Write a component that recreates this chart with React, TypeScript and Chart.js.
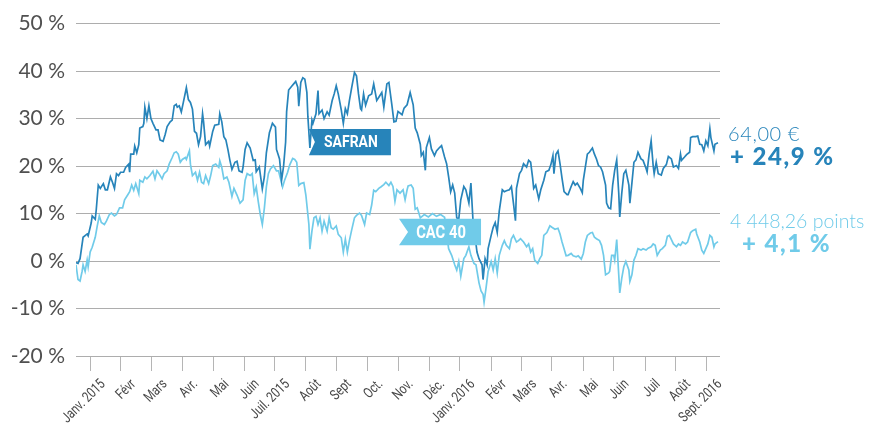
import { useEffect, useRef } from "react";
import { Chart, registerables } from "chart.js";

Chart.register(...registerables);

// ---------- data ----------
const monthLabels = [
  "Janv. 2015", "Févr", "Mars", "Avr.", "Mai", "Juin", "Juil. 2015", "Août", "Sept", "Oct.", "Nov.", "Déc.",
  "Janv. 2016", "Févr", "Mars", "Avr.", "Mai", "Juin", "Juil", "Août", "Sept. 2016",
];
// mid-month positions, in days since 1 Jan 2015
const monthTickDays = [14, 44, 75, 105, 136, 166, 196, 227, 257, 288, 318, 349, 379, 410, 440, 470, 501, 531, 562, 592, 623];

const yTicks = [-20, -10, 0, 10, 20, 30, 40, 50];

// SAFRAN performance since 1 Jan 2015 (%), by day
const safranDays = [
  0, 2, 4, 7, 11, 12, 15, 16, 19, 20, 22, 24, 27, 29, 31, 34, 36, 38, 40, 42, 44, 47, 49, 52, 53, 54, 57, 58, 60, 62,
  63, 66, 67, 68, 70, 72, 74, 76, 79, 81, 83, 86, 88, 90, 93, 95, 97, 99, 100, 102, 104, 106, 109, 111, 113, 115, 117,
  119, 121, 123, 125, 126, 128, 131, 132, 135, 137, 141, 142, 144, 146, 148, 150, 152, 154, 157, 159, 161, 164, 165,
  167, 169, 172, 175, 177, 178, 181, 184, 186, 188, 191, 194, 197, 198, 201, 203, 205, 207, 208, 210, 213, 215, 217,
  219, 220, 222, 224, 226, 228, 229, 231, 233, 234, 237, 239, 240, 243, 245, 248, 250, 253, 255, 257, 259, 262, 264,
  266, 268, 270, 272, 275, 277, 279, 281, 282, 284, 286, 289, 292, 294, 297, 300, 302, 304, 307, 309, 312, 314, 316,
  318, 322, 324, 327, 330, 333, 335, 337, 340, 341, 343, 345, 346, 349, 351, 354, 356, 359, 361, 364, 366, 368, 370,
  372, 374, 376, 378, 380, 383, 385, 388, 390, 392, 394, 396, 398, 401, 402, 404, 406, 407, 410, 412, 414, 416, 418,
  421, 423, 425, 428, 430, 432, 434, 435, 438, 440, 442, 445, 447, 449, 451, 452, 454, 457, 459, 462, 464, 467, 469,
  471, 472, 474, 476, 478, 480, 482, 485, 486, 489, 491, 493, 495, 498, 500, 501, 503, 505, 507, 510, 512, 514, 516,
  518, 520, 523, 524, 526, 528, 530, 532, 534, 536, 537, 539, 541, 543, 546, 547, 549, 551, 553, 555, 558, 560, 563,
  564, 566, 568, 570, 571, 573, 575, 578, 580, 583, 585, 588, 590, 593, 595, 597, 598, 601, 603, 606, 607, 609, 612,
  614, 616, 618, 620, 622, 624, 626, 627, 630, 631, 634,
];
const safranValues = [
  -0.3, -0.5, 0.5, 5, 5.7, 5.3, 8, 9.5, 8.8, 10.8, 16, 15.3, 16.3, 15, 15, 17.7, 16.6, 15.3, 18.4, 18, 18.7, 18.7, 19.7,
  20.4, 18.7, 22.5, 22.5, 24.2, 22.8, 24.5, 28, 28.3, 29, 32.4, 30, 32.7, 30, 29, 27.6, 27.6, 25.5, 25.2, 26.6, 28.3,
  29.3, 29.7, 32.7, 33, 32.4, 32.7, 31.4, 33.4, 36.5, 34, 33.4, 32, 27.3, 26.9, 24.5, 26.2, 31, 29.3, 24.5, 25.2, 24.2,
  27.3, 28.6, 28.8, 31, 29.3, 26.2, 25.5, 23.5, 21.2, 19.3, 20.8, 21, 19, 18.7, 19.8, 23.5, 24.9, 23.8, 21.2, 21.3,
  18.8, 19.8, 15.2, 17.7, 22.8, 27, 29, 28.2, 23.5, 21.5, 17, 20, 25, 31.4, 36, 36.8, 37.3, 37.8, 36.6, 32.6, 37.6,
  38.6, 38.3, 35.5, 30.4, 23.8, 29.7, 29, 31, 35.9, 31, 31.8, 30, 31.4, 30.7, 33.8, 35.2, 36.9, 35.2, 31.8, 29, 32.1,
  31, 33.8, 36.2, 39.7, 39, 35.2, 32.1, 31.8, 35.2, 32.8, 34.8, 35.2, 37.3, 33.8, 34.8, 35.5, 32.4, 37.3, 37.6, 32.8,
  29.3, 29.4, 31.5, 30.8, 32.2, 32.9, 35.5, 32.9, 28, 27, 24.6, 22.2, 22.9, 19.1, 23.9, 26, 23.6, 22.2, 23.2, 23.9,
  24.3, 21.9, 20.5, 17.7, 14.6, 16, 14.3, 9.1, 8.8, 12.9, 15.7, 15, 12.2, 16.4, 8.8, 5.4, 1.9, 0.5, -0.8, -3.9, 0.5,
  -0.8, 2.6, 5.4, 7.1, 8.1, 6, 10.5, 15, 14.6, 14.8, 15, 15.7, 12.2, 8.5, 15.3, 18.4, 19.1, 20.5, 19.8, 21.2, 20.8,
  17.4, 15.3, 16, 13.1, 15, 17, 18.8, 19.1, 20.3, 22.2, 18.4, 22.5, 23.2, 20.5, 17.4, 14.6, 14, 14, 15.7, 16.7, 16,
  16.4, 15.3, 14.4, 17, 19.8, 22.5, 22.9, 23.8, 22.5, 21.5, 20.1, 19.8, 18.8, 16, 12.2, 11.2, 11, 16, 19.1, 21.3, 14.3,
  9.3, 14.3, 18.4, 19.1, 16, 12.2, 16.4, 20.8, 21.3, 22.9, 21.5, 21.2, 19.5, 18.8, 22.5, 25.3, 20.1, 18.4, 20.8, 18.4,
  18.1, 19.5, 20.3, 22, 21.5, 19.8, 20.1, 19.5, 22.5, 21.2, 21.9, 22.4, 22.9, 26, 26.2, 26.2, 26.3, 24.6, 24.5, 23.2,
  25.3, 24.3, 27.9, 26, 23.2, 24.6, 24.9,
];

// CAC 40 performance since 1 Jan 2015 (%), by day
const cacDays = [
  0, 2, 4, 6, 7, 9, 11, 12, 14, 16, 19, 21, 23, 25, 28, 30, 33, 35, 38, 40, 43, 46, 48, 51, 53, 55, 57, 59, 62, 63, 66,
  68, 70, 73, 76, 78, 80, 82, 85, 87, 90, 92, 95, 97, 99, 101, 103, 105, 108, 109, 112, 113, 115, 118, 120, 122, 124,
  126, 128, 131, 133, 135, 138, 141, 142, 144, 146, 149, 151, 154, 156, 159, 162, 165, 167, 169, 172, 174, 176, 178,
  180, 182, 184, 186, 188, 190, 192, 195, 198, 200, 202, 204, 206, 209, 211, 214, 216, 218, 220, 222, 225, 227, 230,
  231, 233, 235, 237, 239, 241, 243, 245, 248, 250, 252, 254, 257, 259, 262, 264, 266, 268, 270, 272, 275, 277, 280,
  282, 285, 287, 290, 292, 294, 296, 299, 301, 304, 306, 309, 311, 313, 315, 317, 320, 323, 325, 327, 328, 331, 333,
  335, 337, 340, 344, 348, 352, 356, 360, 364, 366, 368, 371, 374, 376, 378, 380, 383, 385, 388, 390, 393, 395, 398,
  400, 402, 403, 405, 407, 410, 412, 414, 416, 418, 421, 423, 425, 428, 430, 432, 435, 437, 439, 442, 445, 447, 449,
  451, 453, 456, 458, 460, 462, 465, 468, 470, 473, 476, 478, 480, 482, 484, 486, 489, 491, 494, 496, 499, 501, 503,
  505, 508, 510, 512, 514, 517, 519, 521, 523, 526, 527, 529, 531, 532, 534, 536, 537, 539, 541, 543, 546, 547, 549,
  551, 553, 555, 558, 560, 563, 565, 568, 570, 572, 574, 577, 579, 582, 584, 586, 588, 590, 593, 595, 597, 599, 602,
  604, 607, 609, 612, 613, 616, 618, 620, 622, 624, 626, 628, 630, 631, 634,
];
const cacValues = [
  -0.8, -3.9, -4.2, -2.2, -0.8, -2.2, 0.2, -1.2, 1.9, 2.9, 5, 7.4, 9.5, 8.1, 7.7, 8.4, 9.8, 10.1, 9.5, 9.8, 11.2, 11.2,
  12.9, 13.9, 14.6, 16, 14.9, 16.3, 14.2, 17, 16.6, 17.7, 17.3, 18, 18.9, 17.3, 19, 18.4, 17.3, 18.4, 19, 20.4, 21.8,
  22.8, 23, 22.5, 20.8, 21.4, 21.8, 21.4, 23.2, 20.4, 18, 18.7, 17, 18.7, 16.6, 16.3, 18, 16.3, 18, 20.1, 20.4, 19.7,
  21.1, 19.7, 17.3, 17.7, 16.6, 13.6, 15.3, 13.9, 12.2, 12.9, 17, 18.4, 18, 18.4, 14.2, 15.6, 12.5, 9.8, 7.7, 11.1,
  15.6, 18.4, 19.4, 20.1, 19, 19, 17.3, 15.6, 17, 18.7, 20.2, 21.6, 21.4, 20.8, 15.9, 16.3, 16.5, 13.9, 7.7, 2.5, 6.3,
  9.1, 9.4, 7.7, 9.1, 6.3, 8.4, 6.3, 9.1, 7, 6.7, 7.4, 5.6, 4.9, 1.9, 4.6, 1.9, 4.3, 6.3, 9.1, 9.6, 10.1, 9.6, 7.7,
  10.1, 9.8, 11.8, 14.9, 14.6, 15.3, 15.6, 16.1, 16.6, 15.9, 16.6, 15.7, 12.6, 15, 14.3, 15, 12.9, 15, 15.8, 16, 15.3,
  10.9, 11.2, 9.1, 9.8, 9.3, 10, 9.4, 9.8, 9.2, 6, 2.6, 1.2, -0.8, -1.9, -0.1, -3.2, 0.5, 1.2, 3, 1.2, -0.5, -0.8,
  -4.6, -6.3, -7, -8.7, -5.6, -2.2, -0.1, -1.9, 0.5, -2.5, 1.2, 3.3, 4.3, 3.3, 2.6, 4.7, 5.4, 4, 4.3, 4.7, 4, 3, 3.6,
  1.9, 2.6, 0.2, -0.5, 0.5, 1.2, 5.4, 6, 7.4, 7.1, 6.7, 6.9, 5.7, 4, 2.6, 1.1, 1.2, 1.6, 1.1, 0.9, 1.1, 0.4, 1.6, 4,
  5.4, 5.9, 6, 5, 4.7, 4.3, 3.3, 1.2, -2.9, -2.5, -2.2, 1.2, 1.2, 0.2, 4.5, -2.9, -6.7, -3.6, -1.2, -0.1, -1.9, -4.3,
  -2.9, 0.2, 1.2, 2.6, 2.3, 2.6, 2.3, 2.7, 3, 3.6, 3.3, 1.2, 2.3, 2.6, 3.3, 5.2, 5.4, 4.5, 3.6, 3, 3.6, 3.3, 4, 3.6, 4,
  6, 6.4, 6.7, 5.7, 4, 2.3, 1.6, 2.6, 3.6, 5.4, 5, 3, 3.6, 4.1,
];

const safranLabel = "SAFRAN";
const cacLabel = "CAC 40";
const safranPrice = "64,00 €";
const safranChange = "+ 24,9 %";
const cacPoints = "4 448,26 points";
const cacChange = "+ 4,1 %";

// ---------- styles ----------
const SAFRAN_COLOR = "#2784ba";
const CAC_COLOR = "#70cbe9";
const TEXT_COLOR = "#474747";
const GRID_COLOR = "#adadad";

// ribbons placed in data units (days, %)
const ribbons = [
  { text: safranLabel, from: 230, to: 311, top: 27.8, bottom: 22.3, color: SAFRAN_COLOR, notch: 6, size: 17 },
  { text: cacLabel, from: 319, to: 400, top: 8.9, bottom: 3.3, color: CAC_COLOR, notch: 9, size: 18 },
];

const overlayPlugin = {
  id: "overlay",
  afterDraw(chart: any) {
    const { ctx, chartArea, scales } = chart;
    const xs = scales.x;
    const ys = scales.y;

    // rotated, condensed month labels
    ctx.save();
    ctx.fillStyle = TEXT_COLOR;
    ctx.font = "14.5px Roboto";
    ctx.textAlign = "right";
    ctx.textBaseline = "top";
    monthTickDays.forEach((d, i) => {
      const px = xs.getPixelForValue(d);
      ctx.save();
      ctx.translate(px + 8, chartArea.bottom + 21);
      ctx.rotate((-45 * Math.PI) / 180);
      ctx.scale(0.78, 1);
      ctx.fillText(monthLabels[i], 0, 0);
      ctx.restore();
    });
    ctx.restore();

    // ribbons
    ribbons.forEach((r) => {
      const l = xs.getPixelForValue(r.from);
      const rr = xs.getPixelForValue(r.to);
      const t = ys.getPixelForValue(r.top);
      const b = ys.getPixelForValue(r.bottom);
      ctx.save();
      ctx.fillStyle = r.color;
      ctx.beginPath();
      ctx.moveTo(l, t);
      ctx.lineTo(rr, t);
      ctx.lineTo(rr, b);
      ctx.lineTo(l, b);
      ctx.lineTo(l + r.notch, (t + b) / 2);
      ctx.closePath();
      ctx.fill();
      ctx.fillStyle = "#ffffff";
      ctx.font = `bold ${r.size}px Roboto`;
      ctx.textAlign = "center";
      ctx.textBaseline = "middle";
      ctx.translate((l + rr) / 2 + 1, (t + b) / 2 + 1);
      ctx.scale(0.82, 1);
      ctx.fillText(r.text, 0, 0);
      ctx.restore();
    });

    // end-of-line annotations
    const yS = ys.getPixelForValue(safranValues[safranValues.length - 1]);
    const yC = ys.getPixelForValue(cacValues[cacValues.length - 1]);
    ctx.save();
    ctx.textAlign = "left";
    ctx.textBaseline = "middle";
    ctx.fillStyle = SAFRAN_COLOR;
    ctx.font = "300 20px Lato";
    ctx.letterSpacing = "0.6px";
    ctx.fillText(safranPrice, chartArea.right + 8, yS - 8);
    ctx.font = "900 24px Lato";
    ctx.letterSpacing = "1.5px";
    ctx.fillText(safranChange, chartArea.right + 10, yS + 14);
    ctx.fillStyle = CAC_COLOR;
    ctx.font = "300 19.5px Lato";
    ctx.letterSpacing = "0px";
    ctx.fillText(cacPoints, chartArea.right + 10, yC - 20);
    ctx.font = "900 24px Lato";
    ctx.letterSpacing = "1.5px";
    ctx.fillText(cacChange, chartArea.right + 22, yC + 3);
    ctx.restore();
  },
};

export default function App() {
  const canvasRef = useRef<HTMLCanvasElement | null>(null);

  useEffect(() => {
    const canvas = canvasRef.current;
    if (!canvas) return;
    const chart = new Chart(canvas, {
      type: "line",
      data: {
        datasets: [
          {
            label: safranLabel,
            data: safranDays.map((d, i) => ({ x: d, y: safranValues[i] })),
            borderColor: SAFRAN_COLOR,
            borderWidth: 1.7,
            pointRadius: 0,
            tension: 0,
            fill: false,
          },
          {
            label: cacLabel,
            data: cacDays.map((d, i) => ({ x: d, y: cacValues[i] })),
            borderColor: CAC_COLOR,
            borderWidth: 1.7,
            pointRadius: 0,
            tension: 0,
            fill: false,
          },
        ],
      },
      options: {
        responsive: false,
        maintainAspectRatio: false,
        devicePixelRatio: 1,
        animation: false,
        layout: { padding: { left: 0, right: 153, top: 17, bottom: 0 } },
        plugins: { legend: { display: false }, tooltip: { enabled: false } },
        scales: {
          x: {
            type: "linear",
            min: 0,
            max: 636,
            afterBuildTicks: (s: any) => {
              s.ticks = monthTickDays.map((v) => ({ value: v }));
            },
            afterFit: (s: any) => {
              s.height = 67;
            },
            ticks: { display: false },
            grid: { drawOnChartArea: false, drawTicks: true, tickLength: 15, color: "#b5b5b5", lineWidth: 1 },
            border: { display: false },
          },
          y: {
            min: -20,
            max: 50,
            afterBuildTicks: (s: any) => {
              s.ticks = yTicks.map((v) => ({ value: v }));
            },
            afterFit: (s: any) => {
              s.width = 76;
            },
            ticks: {
              callback: (v: any) => `${v} %`,
              font: { family: "Lato", size: 21, weight: "normal" as any },
              color: "#505050",
              padding: 11,
            },
            grid: { color: GRID_COLOR, drawTicks: false, lineWidth: 1 },
            border: { display: false },
          },
        },
      },
      plugins: [overlayPlugin],
    });
    return () => chart.destroy();
  }, []);

  return (
    <div style={{ position: "absolute", left: 0, top: 0, width: 873, height: 423, background: "#fff" }}>
      <canvas ref={canvasRef} width={873} height={423} style={{ display: "block", width: 873, height: 423 }} />
    </div>
  );
}
